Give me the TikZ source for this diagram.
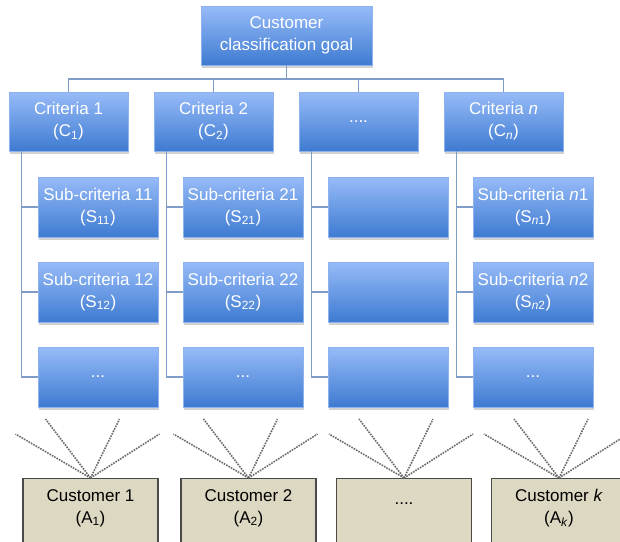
\documentclass[tikz,border=0pt]{standalone}
\usepackage{fontspec}
\setmainfont{Liberation Sans}
\usetikzlibrary{shadows,calc}
\definecolor{bluetop}{HTML}{97BBF8}
\definecolor{bluebot}{HTML}{3E7BD1}
\definecolor{blueedge}{HTML}{8DB2EE}
\definecolor{connc}{HTML}{7F9DC6}
\definecolor{tan}{HTML}{DDD8C1}
\definecolor{tanedge}{HTML}{4A4A4A}
\definecolor{fanc}{HTML}{6A6A6A}
\tikzset{
  bluebox/.style={rectangle, top color=bluetop, bottom color=bluebot, draw=blueedge, line width=0.6pt,
    inner sep=0pt, align=center, text=white, font=\fontsize{17}{22}\selectfont,
    drop shadow={opacity=0.35, shadow xshift=1pt, shadow yshift=-2.5pt}},
  critbox/.style={bluebox, minimum width=119pt, minimum height=59pt},
  subbox/.style={bluebox, minimum width=120pt, minimum height=60pt},
  goalbox/.style={bluebox, minimum width=171pt, minimum height=59pt},
  custbox/.style={rectangle, fill=tan, draw=tanedge, line width=1.2pt, minimum width=135pt, minimum height=100pt, anchor=north, inner sep=0pt},
  custtext/.style={align=center, text=black, font=\fontsize{17}{22}\selectfont, inner sep=0pt},
  conn/.style={draw=connc, line width=1.5pt},
  fan/.style={draw=fanc, line width=1.6pt, dash pattern=on 1.6pt off 1.1pt},
}
\begin{document}
\begin{tikzpicture}[x=1pt,y=-1pt]
\clip (0,0) rectangle (620,541);
\fill[white] (0,0) rectangle (620,541);
% goal
\node[goalbox] (goal) at (286.5,35.5) {Customer\\classification goal};
% criteria
\node[critbox] (C1) at (68.5,121.5) {Criteria 1\\(C\textsubscript{1})};
\node[critbox] (C2) at (213.5,121.5) {Criteria 2\\(C\textsubscript{2})};
\node[critbox] (C3) at (358.5,121.5) {....};
\node[critbox] (Cn) at (503.5,121.5) {Criteria \textit{n}\\(C\textsubscript{\textit{n}})};
% sub-criteria
\node[subbox] (S11) at (98,207) {Sub-criteria 11\\(S\textsubscript{11})};
\node[subbox] (S12) at (98,292) {Sub-criteria 12\\(S\textsubscript{12})};
\node[subbox] (S13) at (98,377) {...};
\node[subbox] (S21) at (243,207) {Sub-criteria 21\\(S\textsubscript{21})};
\node[subbox] (S22) at (243,292) {Sub-criteria 22\\(S\textsubscript{22})};
\node[subbox] (S23) at (243,377) {...};
\node[subbox] (S31) at (388,207) {};
\node[subbox] (S32) at (388,292) {};
\node[subbox] (S33) at (388,377) {};
\node[subbox] (Sn1) at (533,207) {Sub-criteria \textit{n}1\\(S\textsubscript{\textit{n}1})};
\node[subbox] (Sn2) at (533,292) {Sub-criteria \textit{n}2\\(S\textsubscript{\textit{n}2})};
\node[subbox] (Sn3) at (533,377) {...};
% connectors top
\coordinate (bar) at (286.5,79);
\draw[conn] (goal.south) -- (bar);
\draw[conn] (C1.north) |- (Cn.north |- bar) -- (Cn.north);
\draw[conn] (C2.north) -- (C2.north |- bar);
\draw[conn] (C3.north) -- (C3.north |- bar);
% criteria to sub-criteria
\foreach \c/\s in {C1/S1, C2/S2, C3/S3, Cn/Sn} {
  \coordinate (v\c) at ([xshift=13pt]\c.south west);
  \draw[conn] (v\c) |- (\s3.west);
  \draw[conn] (\s1.west) -- (\s1.west -| v\c);
  \draw[conn] (\s2.west) -- (\s2.west -| v\c);
}
% customers
\node[custbox] (A1) at (90.5,478) {};
\node[custbox] (A2) at (248.5,478) {};
\node[custbox] (A3) at (404,478) {};
\node[custbox] (Ak) at (559,478) {};
\node[custtext] (A1t) at (90.5,508) {Customer 1\\(A\textsubscript{1})};
\node[custtext] (A2t) at (248.5,508) {Customer 2\\(A\textsubscript{2})};
\node[custtext] (A3t) at (404,504) {....};
\node[custtext] (Akt) at (559,508) {Customer \textit{k}\\(A\textsubscript{\textit{k}})};
% fans
\foreach \a in {A1,A2,A3,Ak} {
  \draw[fan] (\a.north) -- ++(-45,-59);
  \draw[fan] (\a.north) -- ++(29,-59);
  \draw[fan] (\a.north) -- ++(-75,-44);
  \draw[fan] (\a.north) -- ++(69,-44);
}
\end{tikzpicture}
\end{document}
